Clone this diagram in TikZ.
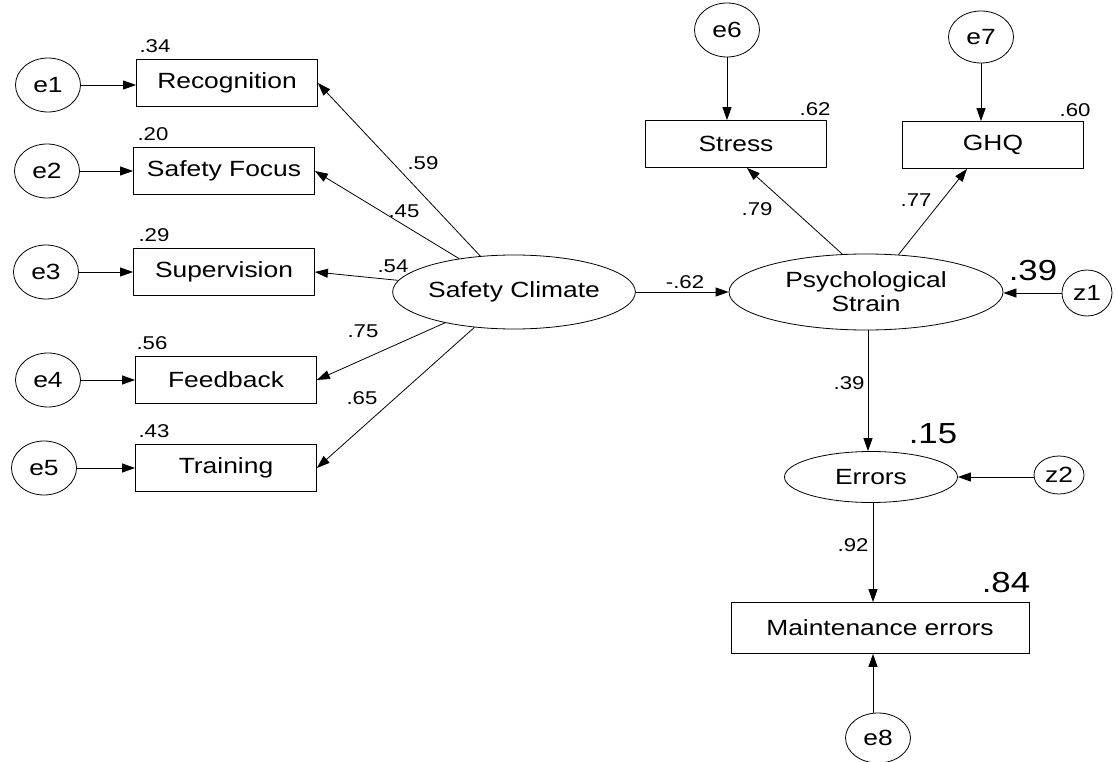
\documentclass[tikz,border=0pt]{standalone}
\usepackage{fontspec}
\setmainfont[FakeStretch=1.2]{Liberation Sans}
\usepackage{tikz}
\usetikzlibrary{shapes.geometric,arrows.meta,calc}
\tikzset{
  obs/.style={draw,rectangle,minimum width=181pt,minimum height=47pt,inner sep=0pt,font=\fontsize{22}{24}\selectfont},
  lat/.style={draw,ellipse,inner sep=0pt,font=\fontsize{22}{24}\selectfont},
  err/.style={lat,minimum width=65pt,minimum height=54pt},
  coef/.style={inner sep=0pt,font=\fontsize{18.5}{20}\selectfont},
  rsq/.style={inner sep=0pt,font=\fontsize{29}{31}\selectfont},
  reg/.style={-{Triangle[length=13pt,width=9pt]}},
}

\begin{document}
\begin{tikzpicture}[x=1pt,y=-1pt,line width=0.8pt]
  \useasboundingbox (0,0) rectangle (1116,762);
  % indicators of safety climate
  \node[obs] (rec) at (227,83) {Recognition};
  \node[obs] (foc) at (224,171) {Safety Focus};
  \node[obs] (sup) at (224,272) {Supervision};
  \node[obs] (fdb) at (226,380) {Feedback};
  \node[obs] (trn) at (226,468) {Training};
  \node[err] (e1) at (48,85) {e1};
  \node[err] (e2) at (47,171) {e2};
  \node[err] (e3) at (46,272) {e3};
  \node[err] (e4) at (48,380) {e4};
  \node[err] (e5) at (44,468) {e5};
  \foreach \e/\b in {e1/rec,e2/foc,e3/sup,e4/fdb,e5/trn}{\draw[reg] (\e) -- (\e -| \b.west);}
  \node[coef,anchor=south west] at ($(rec.north west)+(3,-6)$) {.34};
  \node[coef,anchor=south west] at ($(foc.north west)+(4,-6)$) {.20};
  \node[coef,anchor=south west] at ($(sup.north west)+(5,-6)$) {.29};
  \node[coef,anchor=south west] at ($(fdb.north west)+(1,-6)$) {.56};
  \node[coef,anchor=south west] at ($(trn.north west)+(3,-6)$) {.43};
  % latent variables
  \node[lat,minimum width=156pt,minimum height=74pt] (sc) at (514,292) {Safety Climate};
  \node[lat,minimum width=274pt,minimum height=76pt,align=center] (ps) at (866,292) {Psychological\\Strain};
  \node[lat,minimum width=173pt,minimum height=51pt] (errs) at (871,477) {Errors};
  \foreach \b in {rec,foc,sup,fdb,trn}{\draw[reg] (sc) -- (\b.east);}
  \node[coef] at (423,163) {.59};
  \node[coef] at (404,211) {.45};
  \node[coef] at (393,266) {.54};
  \node[coef] at (363,331) {.75};
  \node[coef] at (362,398) {.65};
  \draw[reg] (sc) -- (ps);
  \node[coef] at (685,282) {-.62};
  % strain indicators
  \node[obs] (str) at (736,144) {Stress};
  \node[obs] (ghq) at (993,145) {GHQ};
  \node[err] (e6) at (727,30) {e6};
  \node[err,minimum height=52pt] (e7) at (981,37) {e7};
  \draw[reg] (e6) -- (e6 |- str.north);
  \draw[reg] (e7) -- (e7 |- ghq.north);
  \draw[reg] (ps.122) -- ($(str.south)+(11,0)$);
  \draw[reg] (ps.49) -- ($(ghq.south)+(-26,0)$);
  \node[coef] at (815,109) {.62};
  \node[coef] at (1075,110) {.60};
  \node[coef] at (757,209) {.79};
  \node[coef] at (916,200) {.77};
  % disturbances and outcome
  \node[lat,minimum width=50pt,minimum height=46pt] (z1) at (1087,293) {z1};
  \node[lat,minimum width=50pt,minimum height=38pt] (z2) at (1059,475) {z2};
  \draw[reg] (z1) -- (z1 -| ps.east);
  \node[rsq] at (1033,271) {.39};
  \draw[reg] ($(ps.south)+(2,0)$) -- ($(ps.south |- errs.north)+(2,0)$);
  \node[coef] at (849,383) {.39};
  \draw[reg] (z2.west |- errs.east) -- (errs.east);
  \node[rsq] at (933,434) {.15};
  \node[obs,minimum width=298pt,minimum height=51pt] (mnt) at (880,628) {Maintenance errors};
  \node[err,minimum height=50pt] (e8) at (878,738) {e8};
  \draw[reg] ($(errs.south)+(2,0)$) -- ($(errs.south |- mnt.north)+(2,0)$);
  \draw[reg] ($(e8.north)+(-5,0)$) -- ($(e8.north |- mnt.south)+(-5,0)$);
  \node[coef] at (853,545) {.92};
  \node[rsq] at (1006,583) {.84};
\end{tikzpicture}
\end{document}
